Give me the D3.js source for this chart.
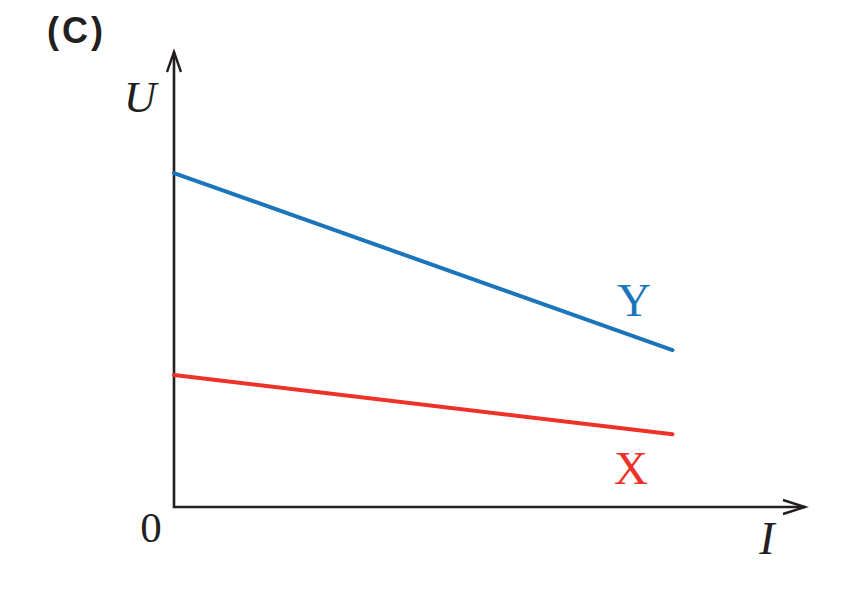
<!DOCTYPE html>
<html>
<head>
<meta charset="utf-8">
<script src="https://cdn.jsdelivr.net/npm/d3@7"></script>
<style>
  html, body { margin: 0; padding: 0; background: #fff; }
</style>
</head>
<body>
<div id="chart"></div>
<script>
// current I (arbitrary units) at the two ends of each line
var currents = [0, 7.9];
// terminal voltage U for each source
var seriesY = [7.34, 3.45];
var seriesX = [2.9, 1.6];
var seriesNames = ['Y', 'X'];
var axisMax = 10;

var width = 847, height = 593;
var svg = d3.select('#chart').append('svg')
    .attr('width', width)
    .attr('height', height);

var x = d3.scaleLinear().domain([0, axisMax]).range([174, 805]);
var y = d3.scaleLinear().domain([0, axisMax]).range([507, 52]);

var ink = '#231f20';
var colors = { Y: '#1b75bb', X: '#ee3129' };

// axes
svg.append('path')
    .attr('d', 'M' + x(0) + ',' + y(axisMax) + ' L' + x(0) + ',' + y(0) + ' L' + x(axisMax) + ',' + y(0))
    .style('fill', 'none')
    .style('stroke', ink)
    .style('stroke-width', 2.6);

// arrow heads
svg.append('path')
    .attr('d', 'M' + (x(0) - 7) + ',' + (y(axisMax) + 20) + ' L' + x(0) + ',' + y(axisMax) + ' L' + (x(0) + 7) + ',' + (y(axisMax) + 20))
    .style('fill', 'none').style('stroke', ink).style('stroke-width', 2.4);
svg.append('path')
    .attr('d', 'M' + (x(axisMax) - 22) + ',' + (y(0) - 7) + ' L' + x(axisMax) + ',' + y(0) + ' L' + (x(axisMax) - 22) + ',' + (y(0) + 7))
    .style('fill', 'none').style('stroke', ink).style('stroke-width', 2.4);

var line = d3.line()
    .x(function(d, i) { return x(currents[i]); })
    .y(function(d) { return y(d); });

[seriesY, seriesX].forEach(function(s, k) {
  svg.append('path')
      .datum(s)
      .attr('d', line)
      .style('fill', 'none')
      .style('stroke', colors[seriesNames[k]])
      .style('stroke-width', 4)
      .style('stroke-linecap', 'round');
});

var serif = '"Liberation Serif", "DejaVu Serif", serif';

svg.append('text').attr('x', 634).attr('y', 316)
    .attr('text-anchor', 'middle')
    .style('font-family', serif).style('font-size', '47px')
    .style('fill', colors.Y).text('Y');
svg.append('text').attr('x', 631).attr('y', 484)
    .attr('text-anchor', 'middle')
    .style('font-family', serif).style('font-size', '47px')
    .style('fill', colors.X).text('X');

svg.append('text').attr('x', 140).attr('y', 112)
    .attr('text-anchor', 'middle')
    .style('font-family', serif).style('font-style', 'italic').style('font-size', '45px')
    .style('fill', ink).text('U');
svg.append('text').attr('x', 767).attr('y', 554)
    .attr('text-anchor', 'middle')
    .style('font-family', serif).style('font-style', 'italic').style('font-size', '46px')
    .style('fill', ink).text('I');
svg.append('text').attr('x', 151).attr('y', 542)
    .attr('text-anchor', 'middle')
    .style('font-family', serif).style('font-size', '43px')
    .style('fill', ink).text('0');

svg.append('text').attr('x', 47).attr('y', 43)
    .style('font-family', '"Liberation Sans", Arial, sans-serif')
    .style('font-weight', 'bold').style('font-size', '36px')
    .style('letter-spacing', '3px')
    .style('fill', ink).text('(C)');
</script>
</body>
</html>
